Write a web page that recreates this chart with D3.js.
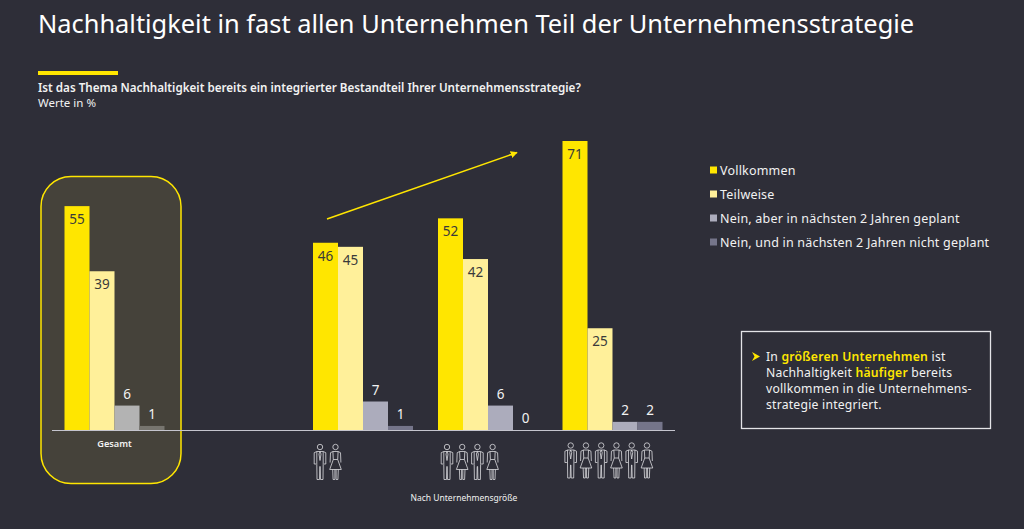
<!DOCTYPE html>
<html><head><meta charset="utf-8">
<script src="https://cdn.jsdelivr.net/npm/d3@7"></script>
<style>html,body{margin:0;padding:0;background:#2e2e38}svg{display:block}text{font-family:"Noto Sans",sans-serif}</style>
</head><body><svg id="c" width="1024" height="529"></svg>
<script>
const groups = ["Gesamt","Klein","Mittel","Groß"];
const seriesNames = ["Vollkommen","Teilweise","Nein, aber in nächsten 2 Jahren geplant","Nein, und in nächsten 2 Jahren nicht geplant"];
const vollkommen = [55,46,52,71];
const teilweise = [39,45,42,25];
const neinGeplant = [6,7,6,2];
const neinNicht = [1,1,0,2];
const seriesValues = [vollkommen,teilweise,neinGeplant,neinNicht];
const colors = ["#ffe600","#fff09a","#acacbc","#75758a"];
const groupLeft = [64.5,313,438,562.5];
const iconCounts = [0,2,4,6];
const W=25;
const svg=d3.select("#c");
const txt="#f2f2f2";
// header
svg.append("text").attr("x",38).attr("y",33).attr("fill","#fff").attr("font-size",25.4).text("Nachhaltigkeit in fast allen Unternehmen Teil der Unternehmensstrategie");
svg.append("rect").attr("x",38).attr("y",71).attr("width",80).attr("height",4).attr("fill","#ffe600");
svg.append("text").attr("x",38).attr("y",92).attr("fill","#f2f2f2").attr("font-size",11.65).attr("font-weight",600).text("Ist das Thema Nachhaltigkeit bereits ein integrierter Bestandteil Ihrer Unternehmensstrategie?");
svg.append("text").attr("x",38).attr("y",107).attr("fill","#f2f2f2").attr("font-size",11.5).text("Werte in %");
// panel
svg.append("rect").attr("x",41).attr("y",176.5).attr("width",140).attr("height",307).attr("rx",30).attr("fill","#45423a").attr("stroke","#ffe600").attr("stroke-width",1.5);
// scales
const y=d3.scaleLinear().domain([0,71]).range([430,141]);
const inner=d3.scaleBand().domain(d3.range(4)).range([0,W*4]);
// bars
const g=svg.selectAll("g.grp").data(groups).join("g").attr("transform",(d,i)=>`translate(${groupLeft[i]},0)`);
g.each(function(_,gi){
  const s=d3.select(this);
  seriesValues.forEach((vals,si)=>{
    const v=vals[gi];
    s.append("rect").attr("x",inner(si)).attr("y",y(v)).attr("width",inner.bandwidth()).attr("height",430-y(v)).attr("fill",si==2&&gi==0?"#b3b3b3":si==3&&gi==0?"#77756f":colors[si]);
    const inside=si<2;
    s.append("text").attr("x",inner(si)+W/2).attr("y",inside?y(v)+18:y(v)-7).attr("text-anchor","middle").attr("font-size",13.5).attr("fill",inside?"#3a3a3a":txt).text(v);
  });
});
// axis
svg.append("line").attr("x1",52).attr("x2",675).attr("y1",430.5).attr("y2",430.5).attr("stroke","#c4c4cd").attr("stroke-width",1);
svg.append("text").attr("x",114.5).attr("y",447).attr("text-anchor","middle").attr("fill",txt).attr("font-size",9.2).attr("font-weight",600).text("Gesamt");
svg.append("text").attr("x",464).attr("y",501).attr("text-anchor","middle").attr("fill",txt).attr("font-size",8.5).text("Nach Unternehmensgröße");
// arrow
svg.append("defs").append("marker").attr("id","ah").attr("viewBox","0 0 10 10").attr("refX",9).attr("refY",5).attr("markerWidth",7).attr("markerHeight",7).attr("markerUnits","userSpaceOnUse").attr("orient","auto").append("path").attr("d","M0,0L10,5L0,10Z").attr("fill","#ffe600");
svg.append("line").attr("x1",327).attr("y1",219).attr("x2",517).attr("y2",152.5).attr("stroke","#ffe600").attr("stroke-width",1.5).attr("marker-end","url(#ah)");
// people icons
const man="M-2.7,-14.5a2.7,2.7 0 1,1 5.4,0a2.7,2.7 0 1,1 -5.4,0 M-3.2,-10L3.2,-10L3.2,3L3,18L0.5,18L0.2,5L-0.2,5L-0.5,18L-3,18L-3.2,3Z M3.2,-10L5.8,-8.8L5.8,2.5L3.8,2.5 M-3.2,-10L-5.8,-8.8L-5.8,2.5L-3.8,2.5 M0,-10L-1,-7.5L0,-1L1,-7.5Z";
const woman="M-2.7,-14.5a2.7,2.7 0 1,1 5.4,0a2.7,2.7 0 1,1 -5.4,0 M-2.6,-10L2.6,-10L2.2,-2L5.8,8L-5.8,8L-2.2,-2Z M-2.2,-2L2.2,-2 M2.6,-10L5,-8.8L5.4,1 M-2.6,-10L-5,-8.8L-5.4,1 M-2.8,8L-2.4,18L-0.6,18L-0.6,8 M0.6,8L0.6,18L2.4,18L2.8,8";
const iconStarts=[0,320,447,570.7], iconStep=[0,15.5,15.2,15.25], iconY=[0,461.5,461.5,460];
iconCounts.forEach((n,gi)=>{
  d3.range(n).forEach(k=>{
    svg.append("path").attr("transform",`translate(${iconStarts[gi]+k*iconStep[gi]},${iconY[gi]})`).attr("d",k%2?woman:man).attr("fill","none").attr("stroke","#dcdce0").attr("stroke-width",.8);
  });
});
// legend
const legY=[170,194,218,242];
seriesNames.forEach((n,i)=>{
  svg.append("rect").attr("x",710).attr("y",legY[i]-3.5).attr("width",7).attr("height",7).attr("fill",colors[i]);
  svg.append("text").attr("x",720).attr("y",legY[i]+4.5).attr("fill",txt).attr("font-size",12.5).attr("letter-spacing",0.2).text(n);
});
// callout
svg.append("rect").attr("x",741.5).attr("y",331.5).attr("width",249).attr("height",97).attr("fill","none").attr("stroke","#e4e4e8").attr("stroke-width",1.3);
svg.append("path").attr("d","M752,352L760,356.5L752,361L754.5,356.5Z").attr("fill","#ffe600");
const lines=[[["In ",0],["größeren Unternehmen",1],[" ist",0]],[["Nachhaltigkeit ",0],["häufiger",1],[" bereits",0]],[["vollkommen in die Unternehmens-",0]],[["strategie integriert.",0]]];
lines.forEach((l,i)=>{
  const t=svg.append("text").attr("x",766).attr("y",361+i*16).attr("font-size",12.2).attr("letter-spacing",0.22).attr("fill",txt);
  l.forEach(([s,h])=>t.append("tspan").attr("fill",h?"#ffe600":txt).attr("font-weight",h?600:400).text(s));
});
</script></body></html>
